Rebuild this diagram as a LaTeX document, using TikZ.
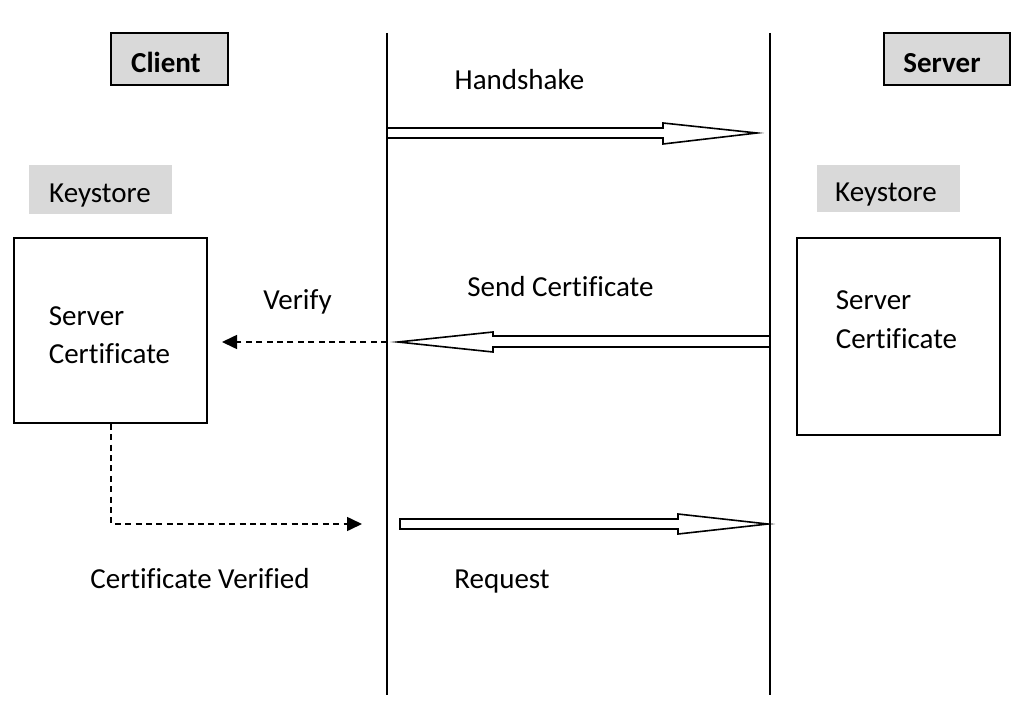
\documentclass[tikz,border=0pt]{standalone}
\usepackage{fontspec}
\setmainfont{Carlito}[Ligatures=NoCommon]
\usetikzlibrary{arrows.meta,calc}
\definecolor{boxgray}{RGB}{217,217,217}
\begin{document}
\begin{tikzpicture}[x=0.5pt,y=-0.5pt,
  font=\fontsize{14.5}{20}\selectfont,
  line width=0.8pt,
  actor/.style={draw, fill=boxgray, inner sep=0pt},
  actortxt/.style={anchor=base, inner sep=0pt, font=\fontsize{14.5}{20}\selectfont\bfseries},
  keybox/.style={fill=boxgray, inner sep=0pt},
  certbox/.style={draw, inner sep=0pt},
  lbl/.style={anchor=base, inner sep=0pt},
  lblw/.style={anchor=base west, inner sep=0pt},
  blockarrow/.style={draw, fill=white, line width=0.8pt},
  dasharrow/.style={dash pattern=on 3pt off 2.2pt, -{Triangle[length=7.5pt,width=7pt]}}]
\useasboundingbox (0,0) rectangle (1024,717);
% actors
\node[actor, minimum width=58.5pt, minimum height=26pt] (client) at (169.5,59) {};
\node[actortxt] (clienttxt) at (166,73) {Client};
\node[actor, minimum width=63pt, minimum height=26pt] (server) at (947,59) {};
\node[actortxt] (servertxt) at (942,73) {Server};
% lifelines
\coordinate (lt) at (387,33); \coordinate (lb) at (387,695);
\coordinate (rt) at (770,33); \coordinate (rb) at (770,695);
\draw (lt) -- (lb);
\draw (rt) -- (rb);
% keystores
\node[keybox, minimum width=71.5pt, minimum height=24.5pt] (ksl) at (100.5,189.5) {};
\node[lbl] (ksltxt) at (100,203) {Keystore};
\node[keybox, minimum width=71.5pt, minimum height=23.5pt] (ksr) at (888.5,188.5) {};
\node[lbl] (ksrtxt) at (886,202) {Keystore};
% certificate boxes
\node[certbox, minimum width=96.5pt, minimum height=92.5pt] (certl) at (110.5,330.5) {};
\node[certbox, minimum width=101.5pt, minimum height=98.5pt] (certr) at (898.5,336.5) {};
\node[lblw] (certl1) at (48,325) {Server};
\node[lblw] (certl2) at (48,364) {Certificate};
\node[lblw] (certr1) at (835,309) {Server};
\node[lblw] (certr2) at (835,348) {Certificate};
% labels
\node[lbl] (hs) at (519.5,90) {Handshake};
\node[lbl] (sc) at (560.5,297) {Send Certificate};
\node[lbl] (vf) at (297.5,309) {Verify};
\node[lbl] (cv) at (200,588) {Certificate Verified};
\node[lbl] (rq) at (502,588) {Request};
% block arrows
\draw[blockarrow] (387,128) -- (663,128) -- (663,123) -- (757,133) -- (663,144) -- (663,138) -- (387,138) -- cycle;
\draw[blockarrow] (770,336) -- (493,336) -- (493,332) -- (398,342) -- (493,352) -- (493,347) -- (770,347) -- cycle;
\draw[blockarrow] (400,519) -- (678,519) -- (678,514) -- (768,524) -- (678,534) -- (678,529) -- (400,529) -- cycle;
% dashed arrows
\coordinate (vstart) at (387,342);
\coordinate (vend) at (222,342);
\draw[dasharrow] (vstart) -- (vend);
\coordinate (cvend) at (362,524);
\draw[dasharrow] (certl.south -| 111,0) -- (111,524) -- (cvend);
\end{tikzpicture}
\end{document}
